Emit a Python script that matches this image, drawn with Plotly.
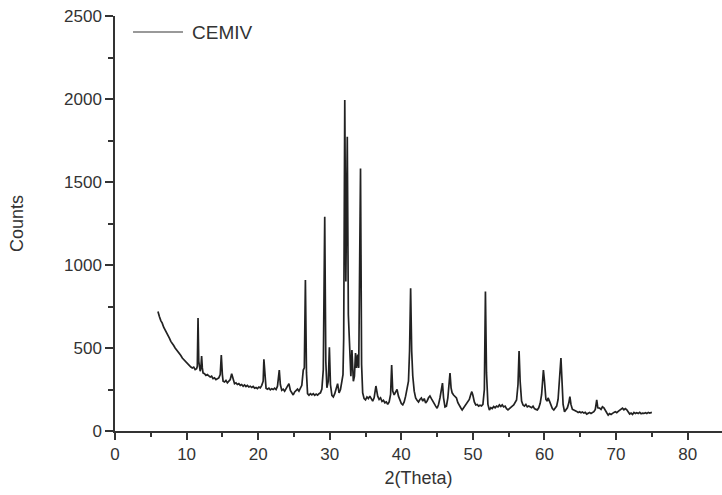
import plotly.graph_objects as go

two_theta = [
    6.0, 6.1, 6.2, 6.4, 6.6, 6.8, 7.0, 7.2, 7.4, 7.6, 7.8, 8.0, 8.2, 8.4, 8.6, 8.8, 9.0, 9.2, 9.4, 9.6,
    9.8, 10.0, 10.2, 10.4, 10.6, 10.8, 11.0, 11.2, 11.4, 11.5, 11.6, 11.7, 11.8, 11.9, 12.0, 12.1, 12.2, 12.3,
    12.5, 12.7, 12.9, 13.1, 13.3, 13.5, 13.7, 13.9, 14.1, 14.3, 14.5, 14.7, 14.85, 15.0, 15.1, 15.3, 15.5,
    15.7, 15.9, 16.1, 16.3, 16.5, 16.7, 16.9, 17.1, 17.3, 17.5, 17.7, 17.9, 18.1, 18.3, 18.5, 18.7, 18.9,
    19.1, 19.3, 19.5, 19.7, 19.9, 20.1, 20.3, 20.5, 20.7, 20.8, 20.95, 21.1, 21.3, 21.5, 21.7, 21.9, 22.1,
    22.3, 22.5, 22.7, 22.95, 23.1, 23.3, 23.5, 23.7, 23.9, 24.1, 24.3, 24.5, 24.7, 24.9, 25.1, 25.3, 25.5,
    25.7, 25.9, 26.1, 26.3, 26.45, 26.6, 26.75, 26.9, 27.1, 27.3, 27.5, 27.7, 27.9, 28.1, 28.3, 28.5, 28.7,
    28.9, 29.1, 29.3, 29.45, 29.6, 29.8, 29.95, 30.1, 30.3, 30.5, 30.7, 30.9, 31.1, 31.3, 31.5, 31.7, 31.85,
    31.95, 32.1, 32.25, 32.45, 32.6, 32.8, 32.95, 33.1, 33.3, 33.45, 33.6, 33.75, 33.9, 34.05, 34.3, 34.45,
    34.6, 34.8, 35.0, 35.2, 35.4, 35.6, 35.8, 36.0, 36.2, 36.45, 36.7, 36.9, 37.1, 37.3, 37.5, 37.7, 37.9,
    38.1, 38.3, 38.5, 38.65, 38.8, 39.0, 39.2, 39.4, 39.6, 39.8, 40.0, 40.2, 40.4, 40.6, 40.8, 41.0, 41.15,
    41.3, 41.45, 41.6, 41.8, 42.0, 42.2, 42.4, 42.6, 42.8, 43.0, 43.2, 43.4, 43.6, 43.8, 44.0, 44.2, 44.4,
    44.6, 44.8, 45.0, 45.2, 45.4, 45.6, 45.75, 45.9, 46.1, 46.3, 46.5, 46.7, 46.8, 46.95, 47.1, 47.3, 47.5,
    47.7, 47.9, 48.1, 48.3, 48.5, 48.7, 48.9, 49.1, 49.3, 49.5, 49.7, 49.85, 50.0, 50.2, 50.4, 50.6, 50.8,
    51.0, 51.2, 51.4, 51.6, 51.75, 51.9, 52.1, 52.3, 52.5, 52.7, 52.9, 53.1, 53.3, 53.5, 53.7, 53.9, 54.1,
    54.3, 54.5, 54.7, 54.9, 55.1, 55.3, 55.5, 55.7, 55.9, 56.1, 56.3, 56.45, 56.6, 56.8, 57.0, 57.2, 57.4,
    57.6, 57.8, 58.0, 58.2, 58.4, 58.6, 58.8, 59.0, 59.2, 59.4, 59.6, 59.85, 60.0, 60.2, 60.4, 60.5, 60.7,
    60.9, 61.1, 61.3, 61.5, 61.7, 61.9, 62.1, 62.3, 62.45, 62.6, 62.8, 63.0, 63.2, 63.4, 63.55, 63.7, 63.9,
    64.1, 64.3, 64.5, 64.7, 64.9, 65.1, 65.3, 65.5, 65.7, 65.9, 66.1, 66.3, 66.5, 66.7, 66.9, 67.1, 67.3,
    67.45, 67.7, 67.9, 68.1, 68.3, 68.5, 68.7, 68.9, 69.1, 69.3, 69.5, 69.7, 69.9, 70.1, 70.3, 70.5, 70.7,
    70.9, 71.1, 71.3, 71.5, 71.7, 71.9, 72.1, 72.3, 72.5, 72.7, 72.9, 73.1, 73.3, 73.5, 73.7, 73.9, 74.1,
    74.3, 74.5, 74.7, 75.0,
]

counts = [
    720, 700, 690, 665, 650, 625, 610, 590, 575, 560, 540, 530, 515, 500, 490, 475, 465, 455, 440, 430,
    420, 410, 405, 395, 385, 380, 385, 370, 375, 390, 680, 420, 370, 360, 380, 452, 380, 350,
    345, 335, 340, 330, 325, 330, 315, 320, 310, 315, 320, 340, 458, 340, 300, 295, 305,
    290, 300, 310, 345, 310, 285, 290, 280, 285, 275, 280, 270, 278, 268, 275, 265, 270,
    262, 268, 258, 262, 255, 265, 260, 275, 300, 432, 300, 258, 252, 258, 248, 255, 250,
    258, 250, 270, 367, 280, 245, 252, 240, 255, 262, 285, 245, 230, 217, 235, 245, 252,
    240, 260, 275, 367, 380, 910, 350, 225, 215, 225, 218, 225, 215, 222, 216, 225, 230,
    253, 370, 1290, 420, 260, 300, 505, 280, 215, 205, 225, 259, 285, 229, 250, 300, 340,
    560, 1994, 900, 1773, 700, 420, 330, 488, 300, 330, 470, 380, 460, 380, 1582, 400,
    230, 195, 187, 205, 195, 210, 190, 180, 200, 271, 210, 190, 200, 178, 185, 170, 175,
    160, 175, 220, 398, 240, 217, 230, 251, 210, 185, 165, 157, 175, 210, 267, 300, 480,
    860, 480, 331, 240, 199, 185, 175, 190, 199, 180, 195, 169, 180, 200, 211, 195, 177,
    165, 150, 137, 160, 199, 240, 289, 200, 145, 150, 200, 300, 349, 260, 230, 217, 210,
    199, 170, 150, 140, 127, 140, 157, 165, 177, 190, 220, 237, 215, 175, 157, 160, 150,
    155, 151, 160, 250, 840, 350, 160, 127, 140, 135, 147, 140, 150, 145, 157, 148, 157,
    145, 150, 135, 127, 135, 140, 150, 157, 170, 187, 280, 482, 300, 180, 157, 150, 160,
    145, 150, 147, 140, 150, 135, 130, 127, 140, 167, 220, 367, 300, 190, 180, 199, 180,
    150, 135, 127, 140, 150, 190, 300, 440, 300, 160, 116, 125, 140, 170, 207, 160, 130,
    127, 120, 118, 112, 116, 110, 115, 108, 112, 102, 108, 112, 105, 110, 116, 130, 187,
    140, 138, 130, 146, 140, 120, 110, 96, 105, 100, 108, 112, 116, 110, 118, 125, 130,
    138, 128, 135, 128, 115, 102, 108, 100, 112, 105, 110, 106, 112, 104, 108, 106, 110,
    105, 112, 108, 112,
]

series_name = "CEMIV"
x_title = "2(Theta)"
y_title = "Counts"

axis_color = "#333333"
font_family = "Liberation Sans, Arial, sans-serif"

fig = go.Figure()
fig.add_trace(go.Scatter(
    x=two_theta, y=counts, mode="lines", name=series_name, showlegend=False,
    line=dict(color="#222222", width=1.7),
))

# legend drawn as a sample line plus label (reference uses a long sample line)
fig.add_shape(type="line", xref="paper", yref="paper",
              x0=0.0297, x1=0.112, y0=0.9614, y1=0.9614,
              line=dict(color="#777777", width=1.5))
fig.add_annotation(xref="paper", yref="paper", x=0.1236, y=0.9614,
                   xanchor="left", yanchor="middle", showarrow=False,
                   text=series_name, font=dict(size=19, color=axis_color))

fig.update_layout(
    width=722, height=495,
    margin=dict(l=115, r=0, t=16, b=64),
    paper_bgcolor="white", plot_bgcolor="white",
    font=dict(family=font_family, size=17, color=axis_color),
    showlegend=False,
    xaxis=dict(
        range=[0, 84.8], tickmode="linear", tick0=0, dtick=10,
        showgrid=False, zeroline=False, showline=True, linecolor=axis_color, linewidth=1.5,
        ticks="outside", ticklen=7, tickwidth=1.5, tickcolor=axis_color,
        minor=dict(ticks="outside", ticklen=4, tickwidth=1.5, tickcolor=axis_color, dtick=5, tick0=0, showgrid=False),
        title=dict(text=x_title, font=dict(size=18), standoff=8),
        tickfont=dict(size=17),
    ),
    yaxis=dict(
        range=[0, 2500], tickmode="linear", tick0=0, dtick=500,
        showgrid=False, zeroline=False, showline=True, linecolor=axis_color, linewidth=1.5,
        ticks="outside", ticklen=8, tickwidth=1.5, tickcolor=axis_color,
        minor=dict(ticks="outside", ticklen=5, tickwidth=1.5, tickcolor=axis_color, dtick=250, tick0=0, showgrid=False),
        title=dict(text=y_title, font=dict(size=18), standoff=36),
        tickfont=dict(size=17),
    ),
)

fig.write_html("out.html")
